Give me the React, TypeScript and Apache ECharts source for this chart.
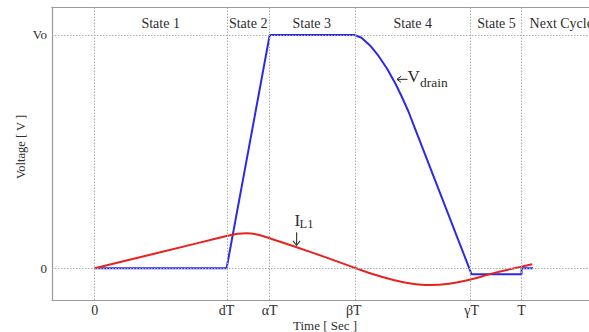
import React, { useEffect, useRef } from "react";
import * as echarts from "echarts";

const xTickValues = [0, 0.309, 0.41, 0.607, 0.883, 1];
const xTickLabels = ["0", "dT", "αT", "βT", "γT", "T"];
const yTickValues = [0, 1];
const yTickLabels = ["0", "Vo"];
const stateNames = ["State 1", "State 2", "State 3", "State 4", "State 5"];
const nextCycleLabel = "Next Cycle";

const vdrainT = [0, 0.309, 0.41, 0.609, 0.625, 0.645, 0.665, 0.685, 0.705, 0.72, 0.735, 0.75, 0.883, 1, 1, 1.027];
const vdrainV = [0, 0, 1, 1, 0.988, 0.955, 0.91, 0.855, 0.79, 0.733, 0.672, 0.601, -0.026, -0.026, 0, 0];

const ilT = [0, 0.246, 0.309, 0.335, 0.356, 0.38, 0.41, 0.473, 0.54, 0.605, 0.645, 0.7, 0.74, 0.785, 0.83, 0.883, 0.926, 1, 1.025];
const ilV = [0, 0.11, 0.138, 0.148, 0.15, 0.145, 0.129, 0.09, 0.048, 0.005, -0.021, -0.05, -0.065, -0.072, -0.066, -0.047, -0.025, 0.007, 0.017];

const X_MIN = -0.1;
const X_MAX = 1.158;
const FONT = '"Liberation Serif", "DejaVu Serif", serif';
const TXT = "#2e2e2e";
const FRAME = "#999";

function lookup(vals: number[], labels: string[], v: number) {
  const i = vals.findIndex((t) => Math.abs(t - v) < 1e-6);
  return i >= 0 ? labels[i] : "";
}

function txt(x: number, y: number, text: string, size: number, align = "center", extra: any = {}) {
  const { fill, ...rest } = extra;
  return {
    type: "text",
    x,
    y,
    silent: true,
    ...rest,
    style: {
      text,
      font: `${size}px ${FONT}`,
      fill: fill || TXT,
      align,
      verticalAlign: "middle",
      textAlign: align,
      textVerticalAlign: "middle",
    },
  };
}

export default function App() {
  const ref = useRef<HTMLDivElement>(null);
  useEffect(() => {
    if (!ref.current) return;
    const chart = echarts.init(ref.current, undefined, { renderer: "svg" });
    const gridLineStyle = { color: "#aaa", type: [1.5, 1.5] as any, width: 1 };
    const frameLine = { show: true, onZero: false, lineStyle: { color: FRAME, width: 1.2 } };
    chart.setOption({
      animation: false,
      grid: { left: 52, right: 0, top: 7, bottom: 32 },
      xAxis: [
        {
          type: "value",
          min: X_MIN,
          max: X_MAX,
          axisLine: frameLine,
          axisTick: { show: false },
          splitLine: { show: false },
          axisLabel: {
            customValues: xTickValues,
            formatter: (v: number) => lookup(xTickValues, xTickLabels, v),
            fontFamily: FONT,
            fontSize: 14,
            color: TXT,
            margin: 3,
          },
        },
        {
          type: "value",
          position: "top",
          min: X_MIN,
          max: X_MAX,
          axisLine: frameLine,
          axisTick: { show: false },
          splitLine: { show: false },
          axisLabel: { show: false },
        },
      ],
      yAxis: {
        type: "value",
        min: -0.136,
        max: 1.12,
        axisLine: frameLine,
        axisTick: { show: false },
        splitLine: { show: false },
        axisLabel: {
          customValues: yTickValues,
          formatter: (v: number) => lookup(yTickValues, yTickLabels, v),
          fontFamily: FONT,
          fontSize: 13,
          color: TXT,
          margin: 5,
        },
      },
      series: [
        {
          type: "line",
          data: vdrainT.map((t, i) => [t, vdrainV[i]]),
          showSymbol: false,
          lineStyle: { color: "#2b2be6", width: 2 },
          z: 3,
          markLine: {
            silent: true,
            symbol: "none",
            label: { show: false },
            lineStyle: gridLineStyle,
            data: [
              ...xTickValues.map((v) => ({ xAxis: v })),
              ...yTickValues.map((v) => ({ yAxis: v })),
            ],
          },
        },
        {
          type: "line",
          data: ilT.map((t, i) => [t, ilV[i]]),
          showSymbol: false,
          smooth: 0.3,
          lineStyle: { color: "#e8231f", width: 2 },
          z: 4,
        },
      ],
    });

    const px = (v: number) => chart.convertToPixel({ xAxisIndex: 0 }, v) as number;
    const py = (v: number) => chart.convertToPixel({ yAxisIndex: 0 }, v) as number;
    const stateY = 23;
    const graphics: any[] = [];
    stateNames.forEach((n, i) => {
      graphics.push(txt((px(xTickValues[i]) + px(xTickValues[i + 1])) / 2, stateY, n, 14));
    });
    graphics.push(txt(px(1) + 8, stateY, nextCycleLabel, 14, "left"));
    // axis names
    graphics.push(txt(325, 325, "Time [ Sec ]", 13));
    graphics.push(txt(21, 147, "Voltage [ V ]", 12.5, "center", { rotation: Math.PI / 2 }));
    // Vdrain annotation
    const vx = px(0.707);
    const vy = py(0.81);
    const arrowColor = "#222";
    graphics.push({
      type: "line",
      silent: true,
      shape: { x1: vx + 1, y1: vy, x2: vx + 11, y2: vy },
      style: { stroke: arrowColor, lineWidth: 1 },
    });
    graphics.push({
      type: "polyline",
      silent: true,
      shape: { points: [[vx + 4.5, vy - 3], [vx + 0.5, vy], [vx + 4.5, vy + 3]] },
      style: { stroke: arrowColor, lineWidth: 1, fill: "none" },
    });
    graphics.push(txt(vx + 11, vy - 3, "V", 17, "left"));
    graphics.push(txt(vx + 23.5, vy + 3, "drain", 13.5, "left"));
    // IL1 annotation
    const ix = px(0.473);
    const iy = py(0.09);
    graphics.push(txt(ix - 2, iy - 27, "I", 17, "left"));
    graphics.push(txt(ix + 3, iy - 23, "L1", 12.5, "left"));
    const greenArrow = "#34483a";
    graphics.push({
      type: "line",
      silent: true,
      shape: { x1: ix, y1: iy - 15, x2: ix, y2: iy - 2 },
      style: { stroke: greenArrow, lineWidth: 1.2 },
    });
    graphics.push({
      type: "polyline",
      silent: true,
      shape: { points: [[ix - 3.5, iy - 6.5], [ix, iy - 2], [ix + 3.5, iy - 6.5]] },
      style: { stroke: greenArrow, lineWidth: 1.2, fill: "none" },
    });
    chart.setOption({ graphic: graphics });

    return () => chart.dispose();
  }, []);
  return (
    <div
      ref={ref}
      style={{ position: "fixed", left: 0, top: 0, width: 589, height: 332, background: "#fff" }}
    />
  );
}
